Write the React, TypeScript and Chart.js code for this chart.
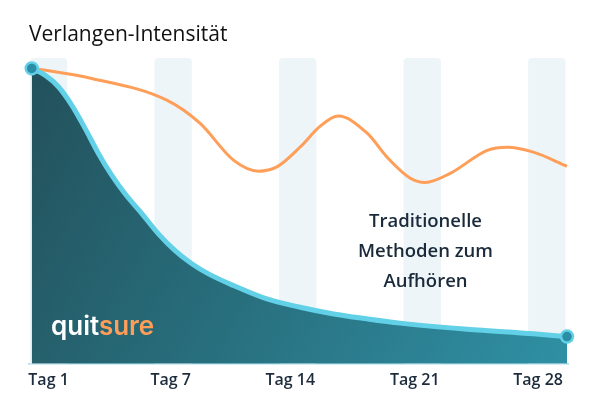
import React, { useEffect, useRef } from "react";
import { Chart, registerables } from "chart.js";

Chart.register(...registerables);

// ---- data ----
const tickLabels = ["Tag 1", "Tag 7", "Tag 14", "Tag 21", "Tag 28"];
const tickPositions = [0.0, 0.98, 1.94, 2.94, 3.93];

const bandPositions = [0, 1, 2, 3, 4];
const bandValues = [100, 100, 100, 100, 100];

const quitsureX = [-0.135, -0.028, 0.079, 0.186, 0.293, 0.4, 0.508, 0.614, 0.749, 0.882, 1.016, 1.15, 1.284, 1.484, 1.753, 2.02, 2.288, 2.556, 2.823, 3.359, 3.892, 4.162];
const quitsureY = [96.6, 94.4, 90.6, 84.6, 77.0, 68.8, 61.6, 55.6, 49.1, 42.5, 37.0, 32.7, 29.4, 25.6, 21.2, 18.5, 16.3, 14.7, 13.3, 11.3, 9.8, 8.9];

const traditionalX = [-0.135, 0.347, 0.949, 1.217, 1.484, 1.685, 1.833, 2.02, 2.181, 2.325, 2.558, 2.719, 2.904, 3.024, 3.225, 3.522, 3.683, 3.892, 4.162];
const traditionalY = [96.7, 93.3, 86.2, 78.6, 66.6, 63.0, 64.4, 70.9, 77.7, 81.0, 75.4, 67.5, 60.7, 59.3, 62.3, 69.8, 70.8, 69.2, 64.6];

const titleText = "Verlangen-Intensität";
const annotationLines = ["Traditionelle", "Methoden zum", "Aufhören"];

export default function App() {
  const canvasRef = useRef<HTMLCanvasElement | null>(null);

  useEffect(() => {
    const canvas = canvasRef.current;
    if (!canvas) return;
    const zip = (xs: number[], ys: number[]) => xs.map((x, i) => ({ x, y: ys[i] }));
    const chart = new Chart(canvas, {
      type: "line",
      data: {
        datasets: [
          {
            type: "line",
            label: "quitsure",
            data: zip(quitsureX, quitsureY),
            borderColor: "#62d0e6",
            borderWidth: 5,
            cubicInterpolationMode: "monotone",
            fill: "origin",
            backgroundColor: (ctx: any) => {
              const { chart } = ctx;
              const area = chart.chartArea;
              if (!area) return "#2a7080";
              const g = chart.ctx.createLinearGradient(area.left, area.top, area.right, area.bottom);
              g.addColorStop(0, "#22505a");
              g.addColorStop(1, "#2f90a4");
              return g;
            },
            pointRadius: (ctx: any) =>
              ctx.dataIndex === 0 || ctx.dataIndex === quitsureX.length - 1 ? 6 : 0,
            pointHoverRadius: 0,
            pointBackgroundColor: "#2a8ea6",
            pointBorderColor: "#62d0e6",
            pointBorderWidth: 2.5,
            clip: false,
            order: 1,
          } as any,
          {
            type: "line",
            label: "Traditionelle Methoden",
            data: zip(traditionalX, traditionalY),
            borderColor: "#ff9e58",
            borderWidth: 3,
            cubicInterpolationMode: "monotone",
            fill: false,
            pointRadius: 0,
            order: 2,
          } as any,
          {
            type: "bar",
            label: "bands",
            data: zip(bandPositions, bandValues),
            backgroundColor: "#edf5f9",
            borderRadius: { topLeft: 4, topRight: 4, bottomLeft: 0, bottomRight: 0 },
            borderSkipped: "bottom",
            barPercentage: 0.313,
            categoryPercentage: 1,
            order: 3,
          } as any,
        ],
      },
      options: {
        animation: false,
        responsive: false,
        maintainAspectRatio: false,
        events: [],
        layout: { padding: { left: 29, right: 32, top: 58, bottom: 22 } },
        plugins: {
          legend: { display: false },
          title: { display: false },
          tooltip: { enabled: false },
        },
        scales: {
          x: {
            type: "linear",
            offset: false,
            min: -0.157,
            max: 4.17,
            grid: { display: false, drawTicks: false, offset: false },
            border: { display: true, color: "#a6dbe7", width: 1.5 },
            afterBuildTicks: (scale: any) => {
              scale.ticks = tickPositions.map((v) => ({ value: v }));
            },
            ticks: {
              autoSkip: false,
              maxRotation: 0,
              padding: 7,
              color: "#1d2c3c",
              font: { family: "'Open Sans'", size: 16, weight: 600 },
              callback: (_v: any, i: number) => tickLabels[i],
            },
          },
          y: {
            display: false,
            min: 0,
            max: 100,
          },
        },
      } as any,
    });
    return () => chart.destroy();
  }, []);

  return (
    <div
      style={{
        position: "fixed",
        left: 0,
        top: 0,
        width: 600,
        height: 419,
        background: "#ffffff",
        overflow: "hidden",
      }}
    >
      <canvas ref={canvasRef} width={600} height={419} style={{ position: "absolute", left: 0, top: 0, width: 600, height: 419 }} />
      <div
        style={{
          position: "absolute",
          left: 29,
          top: 23,
          fontFamily: "'Open Sans', sans-serif",
          fontSize: 21,
          fontWeight: 400,
          lineHeight: "20px",
          color: "#111111",
          whiteSpace: "nowrap",
        }}
      >
        {titleText}
      </div>
      <div
        style={{
          position: "absolute",
          left: 325,
          top: 205,
          width: 201,
          textAlign: "center",
          fontFamily: "'Open Sans', sans-serif",
          fontSize: 18.5,
          fontWeight: 600,
          lineHeight: "30px",
          color: "#1a2a3a",
          whiteSpace: "nowrap",
        }}
      >
        {annotationLines.map((l) => (
          <div key={l}>{l}</div>
        ))}
      </div>
      <div
        style={{
          position: "absolute",
          left: 51,
          top: 313,
          fontFamily: "Inter, sans-serif",
          fontSize: 26,
          fontWeight: 600,
          lineHeight: "26px",
          letterSpacing: 0,
          whiteSpace: "nowrap",
        }}
      >
        <span style={{ color: "#ffffff" }}>quit</span>
        <span style={{ color: "#ff9e58" }}>sure</span>
      </div>
    </div>
  );
}
